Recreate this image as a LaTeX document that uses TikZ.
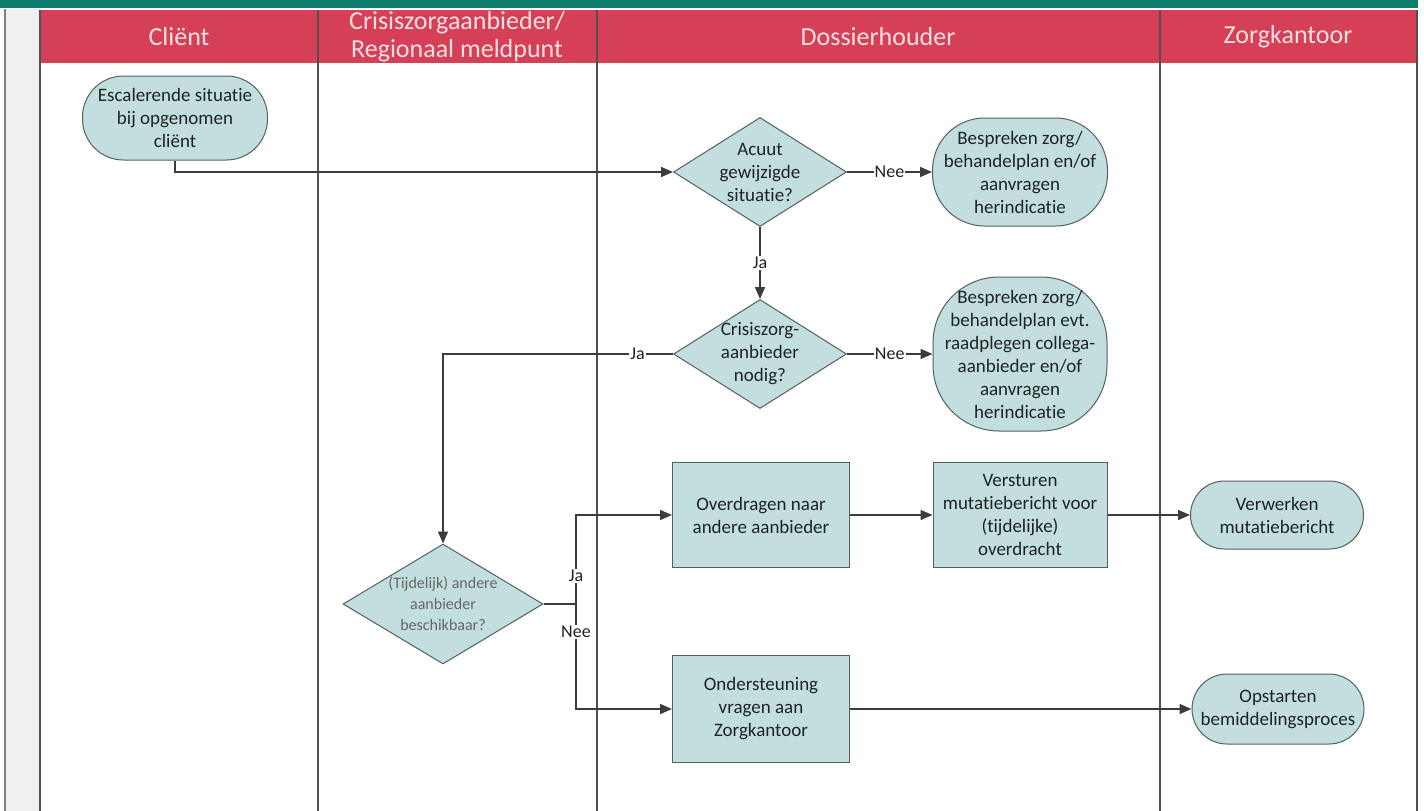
\documentclass[tikz,border=0pt]{standalone}
\usepackage{fontspec}
\setmainfont{Carlito}[Ligatures=NoCommon]
\usetikzlibrary{shapes.geometric,arrows.meta}
\definecolor{barteal}{RGB}{14,125,110}
\definecolor{hdrred}{RGB}{214,64,86}
\definecolor{hdrtext}{RGB}{248,224,228}
\definecolor{nodefill}{RGB}{194,222,222}
\definecolor{nodeline}{RGB}{85,95,95}
\definecolor{nodetext}{RGB}{30,36,36}
\definecolor{linegray}{RGB}{60,60,60}
\definecolor{lanegray}{RGB}{80,80,80}
\definecolor{stripgray}{RGB}{240,240,240}
\tikzset{
  hdr/.style={text=hdrtext, font=\fontsize{26}{28}\selectfont, align=center},
  term/.style={draw=nodeline, line width=1pt, fill=nodefill, text=nodetext, align=center,
    font=\fontsize{19}{23}\selectfont, inner sep=3pt},
  procbox/.style={draw=nodeline, line width=1pt, fill=nodefill, text=nodetext, align=center,
    font=\fontsize{19}{23}\selectfont, inner sep=3pt, rectangle},
  dia/.style={diamond, draw=nodeline, line width=1pt, fill=nodefill, text=nodetext, align=center,
    font=\fontsize{19}{23}\selectfont, inner sep=-4pt, aspect=1.58,
    minimum width=173pt, minimum height=109pt},
  conn/.style={draw=linegray, line width=1.6pt, -{Triangle[length=12pt,width=10pt]}},
  plain/.style={draw=linegray, line width=1.6pt},
  lbl/.style={fill=white, text=nodetext, inner sep=1pt, font=\fontsize{18}{22}\selectfont},
  laneline/.style={draw=lanegray, line width=1.8pt}
}
\begin{document}
\begin{tikzpicture}[x=1pt,y=-1pt]
\useasboundingbox (0,0) rectangle (1424,811);
\fill[white] (0,0) rectangle (1424,811);
% top bar and left strip
\fill[barteal] (0,0) rectangle (1418,8);
\fill[stripgray] (5,9) rectangle (40,811);
\draw[draw=gray, line width=1.5pt] (5,9) -- (5,811);
% header
\fill[hdrred] (40,10) rectangle (1417,63);
\foreach \xx in {40,318,597,1160,1417} {\draw[laneline] (\xx,10) -- (\xx,811);}
\node[hdr] (h1) at (179,37) {Cliënt};
\node[hdr] (h2) at (457,37) {Crisiszorgaanbieder/\\Regionaal meldpunt};
\node[hdr] (h3) at (878,37) {Dossierhouder};
\node[hdr] (h4) at (1288,37) {Zorgkantoor};

% nodes
\node[term, minimum width=185pt, minimum height=84pt, rounded corners=41pt] (start) at (175,118)
  {Escalerende situatie\\bij opgenomen\\cliënt};
\node[dia] (d1) at (760,172) {Acuut\\gewijzigde\\situatie?};
\node[term, minimum width=175pt, minimum height=108pt, rounded corners=52pt] (t1) at (1020,172)
  {Bespreken zorg/\\behandelplan en/of\\aanvragen\\herindicatie};
\node[dia] (d2) at (760,354) {Crisiszorg-\\aanbieder\\nodig?};
\node[term, minimum width=174pt, minimum height=154pt, rounded corners=66pt] (t2) at (1020,354)
  {Bespreken zorg/\\behandelplan evt.\\raadplegen collega-\\aanbieder en/of\\aanvragen\\herindicatie};
\node[dia, minimum width=200pt, minimum height=120pt, aspect=1.67, inner sep=-6pt,
  text=gray!80!black, font=\fontsize{16}{21}\selectfont] (d3) at (443,604)
  {(Tijdelijk) andere\\aanbieder\\beschikbaar?};
\node[procbox, minimum width=177pt, minimum height=105pt] (b1) at (761,515)
  {Overdragen naar\\andere aanbieder};
\node[procbox, minimum width=174pt, minimum height=105pt] (b3) at (1020,515)
  {Versturen\\mutatiebericht voor\\(tijdelijke)\\overdracht};
\node[term, minimum width=173pt, minimum height=68pt, rounded corners=34pt] (v) at (1277,515)
  {Verwerken\\mutatiebericht};
\node[procbox, minimum width=177pt, minimum height=107pt] (b2) at (761,709)
  {Ondersteuning\\vragen aan\\Zorgkantoor};
\node[term, minimum width=172pt, minimum height=70pt, rounded corners=35pt] (o) at (1278,709)
  {Opstarten\\bemiddelingsproces};
\coordinate (junc) at (576,604);

% connectors
\draw[conn] (start.south) |- (d1.west);
\draw[conn] (d1.east) -- node[lbl] {Nee} (t1.west);
\draw[conn] (d1.south) -- node[lbl] {Ja} (d2.north);
\draw[conn] (d2.east) -- node[lbl] {Nee} (t2.west);
\draw[conn] (d2.west) -| node[lbl, pos=0.077] {Ja} (d3.north);
\draw[plain] (d3.east) -- (junc);
\draw[conn] (junc) |- node[lbl, pos=0.157] {Ja} (b1.west);
\draw[conn] (junc) |- node[lbl, pos=0.133] {Nee} (b2.west);
\draw[conn] (b1.east) -- (b3.west);
\draw[conn] (b3.east) -- (v.west);
\draw[conn] (b2.east) -- (o.west);
\end{tikzpicture}
\end{document}
